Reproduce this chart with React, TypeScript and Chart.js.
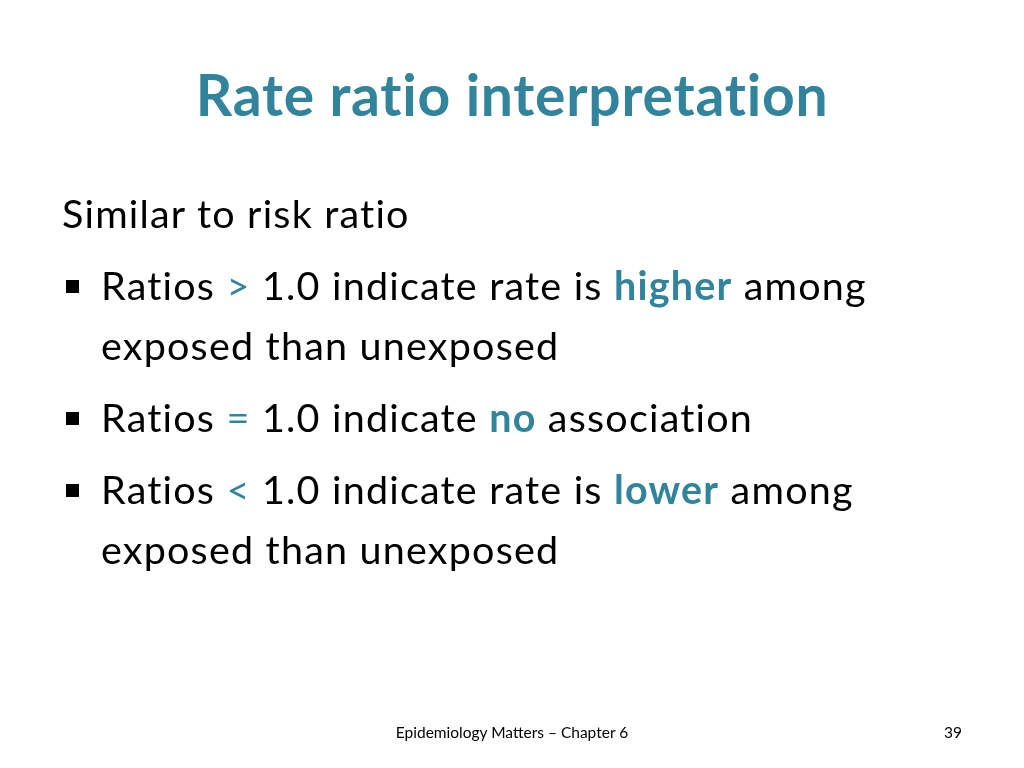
import React, { useEffect, useRef } from "react";
import { Chart, registerables } from "chart.js";

Chart.register(...registerables);

const TEAL = "#31849B";
const FONT = "Lato, 'Open Sans', sans-serif";

const titleText = "Rate ratio interpretation";
const introLine = "Similar to risk ratio";

type Seg = { t: string; accent?: boolean; bold?: boolean };

const bulletHigher: Seg[][] = [
  [
    { t: "Ratios " },
    { t: ">", accent: true },
    { t: " 1.0 indicate rate is " },
    { t: "higher", accent: true, bold: true },
    { t: " among" },
  ],
  [{ t: "exposed than unexposed" }],
];
const bulletNone: Seg[][] = [
  [
    { t: "Ratios " },
    { t: "=", accent: true },
    { t: " 1.0 indicate " },
    { t: "no", accent: true, bold: true },
    { t: " association" },
  ],
];
const bulletLower: Seg[][] = [
  [
    { t: "Ratios " },
    { t: "<", accent: true },
    { t: " 1.0 indicate rate is " },
    { t: "lower", accent: true, bold: true },
    { t: " among" },
  ],
  [{ t: "exposed than unexposed" }],
];
const bullets: Seg[][][] = [bulletHigher, bulletNone, bulletLower];
const footerText = "Epidemiology Matters – Chapter 6";
const pageNumber = "39";

// layout (px)
const BODY_SIZE = 39.5;
const BODY_SPACING = 1.2;
const TITLE_SIZE = 57;
const TITLE_SPACING = 0.75;
const ASC = 0.987; // Lato ascent ratio
const INTRO_BASE = 228;
const LINE_PITCH = 60;
const PARA_PITCH = 72;
const TEXT_X = 101;
const INTRO_X = 62;
const BULLET_X = 66;

function Line({ segs, x, baseline }: { segs: Seg[]; x: number; baseline: number }) {
  return (
    <div
      style={{
        position: "absolute",
        left: x,
        top: baseline - ASC * BODY_SIZE,
        fontFamily: FONT,
        fontSize: BODY_SIZE,
        lineHeight: `${BODY_SIZE * 1.2}px`,
        letterSpacing: `${BODY_SPACING}px`,
        fontVariantLigatures: "none",
        color: "#000",
        whiteSpace: "pre",
      }}
    >
      {segs.map((s, i) => (
        <span key={i} style={{ color: s.accent ? TEAL : "#000", fontWeight: s.bold ? 700 : 400 }}>
          {s.t}
        </span>
      ))}
    </div>
  );
}

const spacingPlugin = {
  id: "titleSpacing",
  beforeDraw(chart: any) {
    const ctx = chart.ctx as any;
    if ("letterSpacing" in ctx) ctx.letterSpacing = `${TITLE_SPACING}px`;
  },
};

export default function App() {
  const canvasRef = useRef<HTMLCanvasElement | null>(null);

  useEffect(() => {
    if (!canvasRef.current) return;
    const chart = new Chart(canvasRef.current, {
      type: "bar",
      data: { labels: [], datasets: [] },
      plugins: [spacingPlugin],
      options: {
        animation: false,
        responsive: false,
        devicePixelRatio: 1,
        layout: { padding: 0 },
        scales: { x: { display: false }, y: { display: false } },
        plugins: {
          legend: { display: false },
          tooltip: { enabled: false },
          title: {
            display: true,
            text: titleText,
            color: TEAL,
            font: { family: FONT, size: TITLE_SIZE, weight: "bold" },
            padding: { top: 63, bottom: 0 },
          },
        },
      },
    });
    return () => chart.destroy();
  }, []);

  const rows: JSX.Element[] = [];
  rows.push(<Line key="intro" segs={[{ t: introLine }]} x={INTRO_X} baseline={INTRO_BASE} />);
  let base = INTRO_BASE;
  bullets.forEach((para, pi) => {
    base += PARA_PITCH;
    rows.push(
      <div
        key={`b${pi}`}
        style={{
          position: "absolute",
          left: BULLET_X,
          top: base - 20,
          width: 13,
          height: 13,
          background: "#000",
        }}
      />
    );
    para.forEach((line, li) => {
      if (li > 0) base += LINE_PITCH;
      rows.push(<Line key={`l${pi}-${li}`} segs={line} x={TEXT_X} baseline={base} />);
    });
  });

  return (
    <div
      style={{
        position: "fixed",
        left: 0,
        top: 0,
        width: 1024,
        height: 768,
        background: "#fff",
        overflow: "hidden",
      }}
    >
      <canvas ref={canvasRef} width={1024} height={768} style={{ position: "absolute", left: 0, top: 0 }} />
      {rows}
      <div
        style={{
          position: "absolute",
          left: 0,
          width: 1024,
          top: 738 - ASC * 15.5,
          textAlign: "center",
          fontFamily: FONT,
          fontSize: 15.5,
          lineHeight: `${15.5 * 1.2}px`,
          color: "#000",
        }}
      >
        {footerText}
      </div>
      <div
        style={{
          position: "absolute",
          right: 1024 - 962,
          top: 738 - ASC * 15.5,
          fontFamily: FONT,
          fontSize: 15.5,
          lineHeight: `${15.5 * 1.2}px`,
          color: "#000",
        }}
      >
        {pageNumber}
      </div>
    </div>
  );
}
